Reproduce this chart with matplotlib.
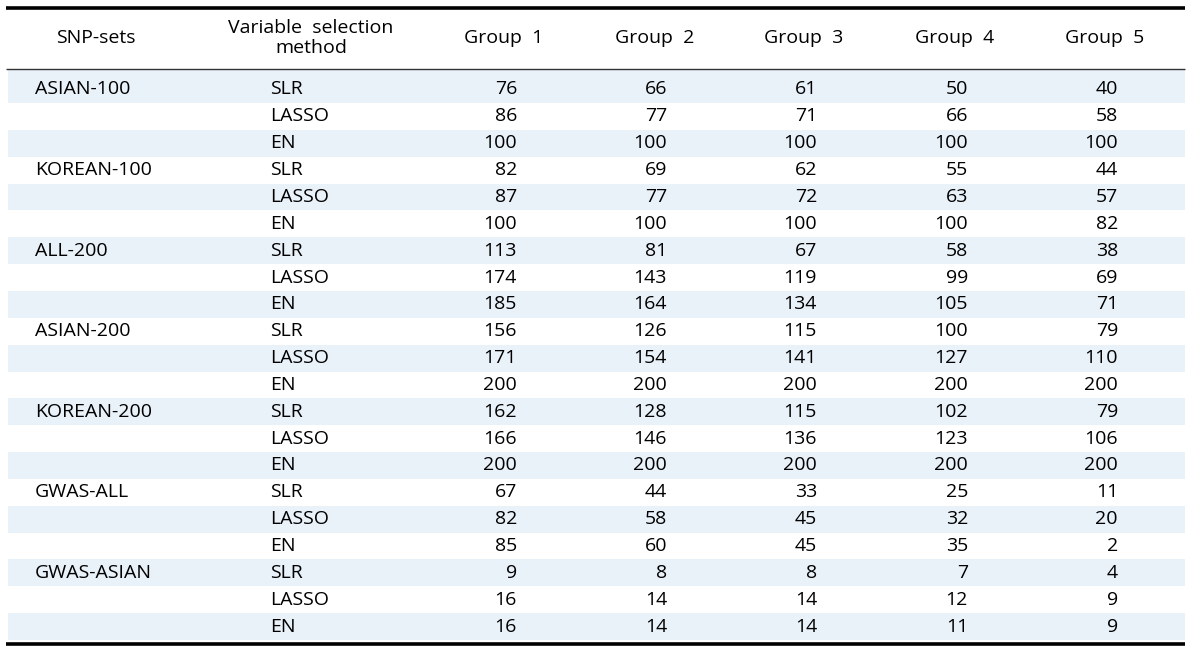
import matplotlib.pyplot as plt
from matplotlib.patches import Rectangle

plt.rcParams['font.family'] = ['Open Sans', 'DejaVu Sans']

snp_sets = ["ASIAN-100", "KOREAN-100", "ALL-200", "ASIAN-200",
            "KOREAN-200", "GWAS-ALL", "GWAS-ASIAN"]
methods = ["SLR", "LASSO", "EN"]
groups = ["Group  1", "Group  2", "Group  3", "Group  4", "Group  5"]

# counts per SNP-set, rows = SLR / LASSO / EN, cols = Group 1..5
asian_100 = [[76, 66, 61, 50, 40], [86, 77, 71, 66, 58], [100, 100, 100, 100, 100]]
korean_100 = [[82, 69, 62, 55, 44], [87, 77, 72, 63, 57], [100, 100, 100, 100, 82]]
all_200 = [[113, 81, 67, 58, 38], [174, 143, 119, 99, 69], [185, 164, 134, 105, 71]]
asian_200 = [[156, 126, 115, 100, 79], [171, 154, 141, 127, 110], [200, 200, 200, 200, 200]]
korean_200 = [[162, 128, 115, 102, 79], [166, 146, 136, 123, 106], [200, 200, 200, 200, 200]]
gwas_all = [[67, 44, 33, 25, 11], [82, 58, 45, 32, 20], [85, 60, 45, 35, 2]]
gwas_asian = [[9, 8, 8, 7, 4], [16, 14, 14, 12, 9], [16, 14, 14, 11, 9]]

blocks = [asian_100, korean_100, all_200, asian_200, korean_200, gwas_all, gwas_asian]

W, H = 1200, 651
fig = plt.figure(figsize=(12, 6.51), dpi=100)
ax = fig.add_axes([0, 0, 1, 1])
ax.set_xlim(0, W)
ax.set_ylim(H, 0)
ax.axis('off')

left, right = 6, 1185
top_rule, head_rule, bottom_rule = 8, 68.5, 643.5
first_top, row_h = 69, 26.85
first_h = 34
snp_x, method_x = 35, 270
num_right = [517, 667, 817, 968, 1118]
head_centers = [504, 655, 804, 955, 1105]
shade = '#e9f1f9'
fs = 14

# rules
ax.plot([left, right], [top_rule, top_rule], color='black', lw=2.6, solid_capstyle='butt')
ax.plot([left, right], [head_rule, head_rule], color='#333333', lw=1.0, solid_capstyle='butt')
ax.plot([left, right], [bottom_rule, bottom_rule], color='black', lw=2.6, solid_capstyle='butt')

# header
head_y = 38
ax.text(96, head_y, "SNP-sets", ha='center', va='center', fontsize=fs)
ax.text(311, head_y, "Variable  selection\nmethod", ha='center', va='center',
        fontsize=fs, linespacing=1.1)
for g, cx in zip(groups, head_centers):
    ax.text(cx, head_y, g, ha='center', va='center', fontsize=fs)

# body
r = 0
for name, block in zip(snp_sets, blocks):
    for m, vals in zip(methods, block):
        if r == 0:
            y0, h = first_top, first_h
            yc = 89
        else:
            y0 = first_top + first_h + (r - 1) * row_h
            h = row_h
            yc = y0 + h / 2
        if r % 2 == 0:
            ax.add_patch(Rectangle((left + 2, y0), right - left - 2, h,
                                   facecolor=shade, edgecolor='none', zorder=0))
        if m == "SLR":
            ax.text(snp_x, yc, name, ha='left', va='center', fontsize=fs)
        ax.text(method_x, yc, m, ha='left', va='center', fontsize=fs)
        for v, xr in zip(vals, num_right):
            ax.text(xr, yc, str(v), ha='right', va='center', fontsize=fs)
        r += 1

fig.savefig("out.png", dpi=100)
